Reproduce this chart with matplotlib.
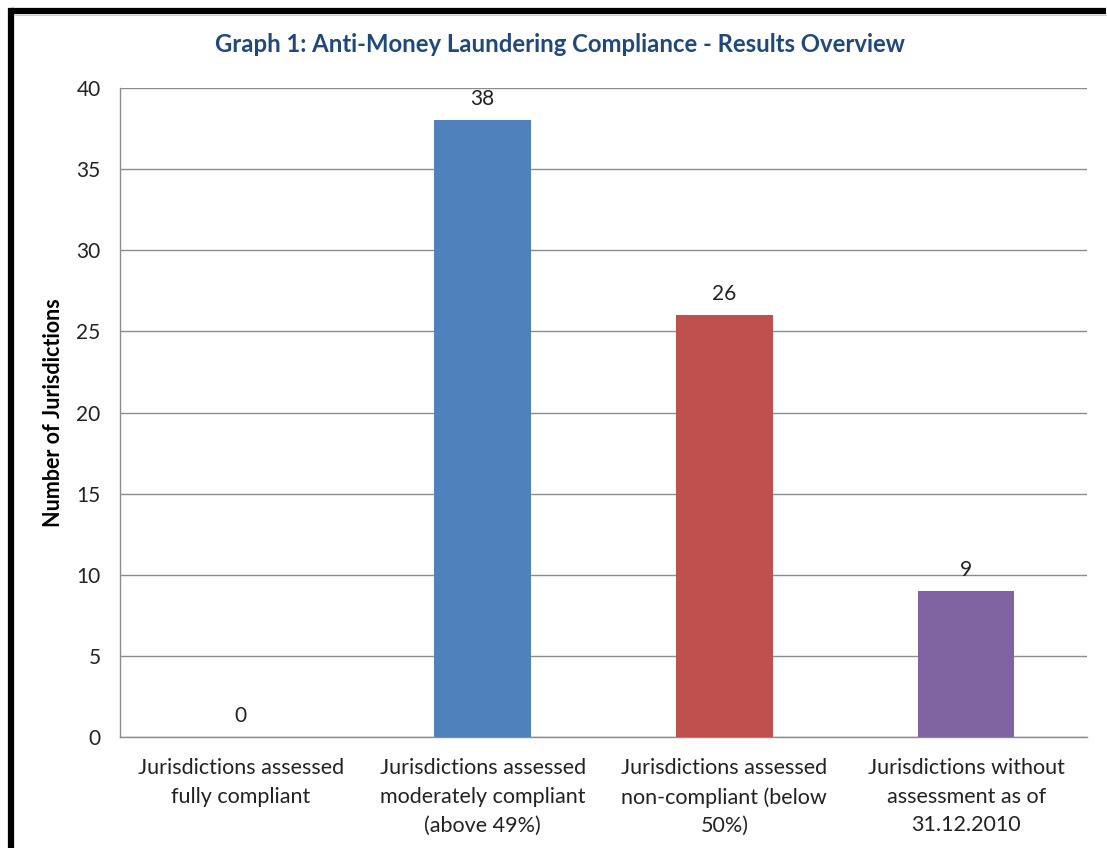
import matplotlib

matplotlib.use("Agg")
import matplotlib.pyplot as plt  # noqa: E402
from matplotlib.lines import Line2D  # noqa: E402

categories = [
    "Jurisdictions assessed\nfully compliant",
    "Jurisdictions assessed\nmoderately compliant\n(above 49%)",
    "Jurisdictions assessed\nnon-compliant (below\n50%)",
    "Jurisdictions without\nassessment as of\n31.12.2010",
]
counts = [0, 38, 26, 9]
bar_colors = ["#4F81BD", "#4F81BD", "#C0504D", "#8064A2"]
yticks = [0, 5, 10, 15, 20, 25, 30, 35, 40]

plt.rcParams["font.family"] = ["Lato", "DejaVu Sans"]

fig = plt.figure(figsize=(11.07, 8.48), dpi=100)
ax = fig.add_axes([0.1084, 0.1309, 0.8735, 0.7653])

x = list(range(len(categories)))
ax.bar(x, counts, width=0.4, color=bar_colors, zorder=3)
for xi, v in zip(x, counts):
    ax.text(xi, v + 0.7, str(v), ha="center", va="bottom", fontsize=15, color="#222222")

ax.set_xlim(-0.5, len(categories) - 0.5)
ax.set_ylim(0, 40)
ax.set_yticks(yticks)
ax.set_xticks(x)
ax.set_xticklabels(categories, fontsize=15.5, linespacing=1.55, color="#222222")
ax.tick_params(axis="y", labelsize=15, length=0, pad=14, colors="#222222")
ax.tick_params(axis="x", length=0, pad=15)
ax.yaxis.grid(True, color="#8c8c8c", linewidth=1.0, zorder=0)
for side in ["top", "right"]:
    ax.spines[side].set_visible(False)
for side in ["left", "bottom"]:
    ax.spines[side].set_color("#8c8c8c")
    ax.spines[side].set_linewidth(1.0)

ax.set_ylabel("Number of Jurisdictions", fontsize=15.5, fontweight="bold")
ax.yaxis.set_label_coords(-0.058, 0.5)
fig.text(0.506, 0.947, "Graph 1: Anti-Money Laundering Compliance - Results Overview",
         ha="center", va="center", fontsize=17.2, fontweight="bold", color="#1F497D")

# thick frame on the left and top (the rest is cropped off)
fig.add_artist(Line2D([0.0095, 0.0095], [0.0, 0.9875],
                      transform=fig.transFigure, color="black", linewidth=4.5,
                      solid_capstyle="projecting"))
fig.add_artist(Line2D([0.0095, 0.999], [0.9875, 0.9875],
                      transform=fig.transFigure, color="black", linewidth=4.5,
                      solid_capstyle="butt"))
fig.add_artist(Line2D([0.0125, 0.999], [0.9825, 0.9825], transform=fig.transFigure,
                      color="#cfcfcf", linewidth=0.8))

fig.savefig("out.png", dpi=100)
